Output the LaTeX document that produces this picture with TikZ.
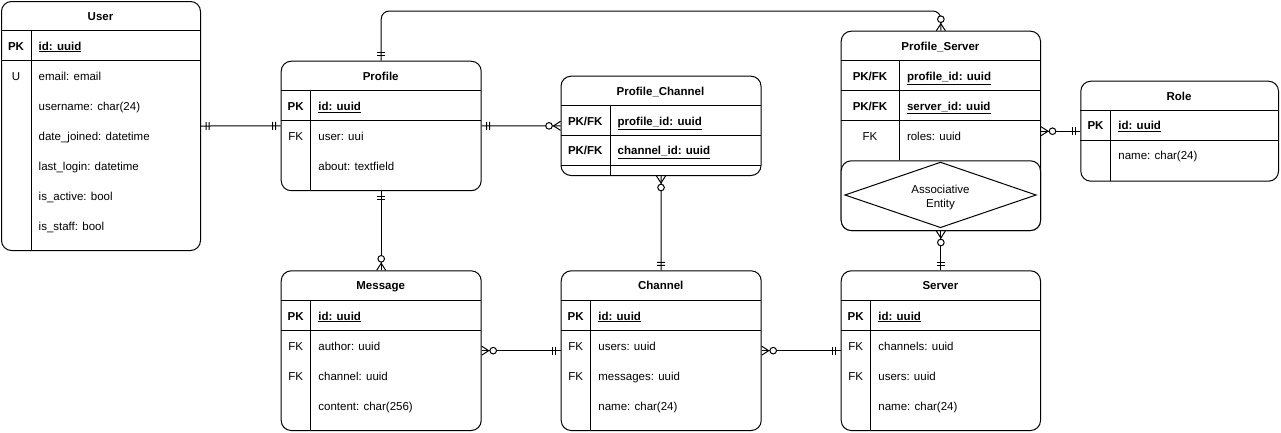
\documentclass[tikz,border=0pt]{standalone}
\usepackage{fontspec}
\setmainfont{Liberation Sans}
\usetikzlibrary{decorations.markings}
\newcommand\erfs{\fontsize{11.5}{15}\selectfont}
\newcommand\erul[1]{\underline{#1}}
\tikzset{
  ent/.style={draw, rounded corners=10pt, line width=1pt, inner sep=0pt, anchor=north west, fill=white},
  txt/.style={inner sep=0pt, font=\erfs, text height=9pt, text depth=0pt},
  ttl/.style={txt, font=\erfs\bfseries},
  keycell/.style={txt},
  pkcell/.style={txt, font=\erfs\bfseries},
  val/.style={txt, anchor=west},
  pkval/.style={val, font=\erfs\bfseries},
  rowline/.style={line width=1pt},
  conn/.style={line width=1pt},
  oneEnd/.style={postaction={decorate,decoration={markings,
    mark=at position -5pt with {\draw[line width=1pt,sharp corners] (0pt,-4pt) -- (0pt,4pt);},
    mark=at position -8pt with {\draw[line width=1pt,sharp corners] (0pt,-4pt) -- (0pt,4pt);}}}},
  oneStart/.style={postaction={decorate,decoration={markings,
    mark=at position 5pt with {\draw[line width=1pt,sharp corners] (0pt,-4pt) -- (0pt,4pt);},
    mark=at position 8pt with {\draw[line width=1pt,sharp corners] (0pt,-4pt) -- (0pt,4pt);}}}},
  manyEnd/.style={postaction={decorate,decoration={markings,
    mark=at position -7pt with {\draw[line width=1pt,sharp corners] (7pt,4.5pt) -- (0pt,0pt) -- (7pt,-4.5pt);},
    mark=at position -11.5pt with {\draw[line width=1pt,fill=white] (0pt,0pt) circle (3.3pt);}}}},
  manyStart/.style={postaction={decorate,decoration={markings,
    mark=at position 7pt with {\draw[line width=1pt,sharp corners] (-7pt,4.5pt) -- (0pt,0pt) -- (-7pt,-4.5pt);},
    mark=at position 11.5pt with {\draw[line width=1pt,fill=white] (0pt,0pt) circle (3.3pt);}}}},
}
\begin{document}
\begin{tikzpicture}[x=1pt,y=-1pt]
\fill[white] (0,0) rectangle (1281,432);
\useasboundingbox (0,0) rectangle (1281,432);

% ---------- User ----------
\node[ent, minimum width=199pt, minimum height=249pt] (user) at (1,1) {};
\draw[rowline] (1,30.5) -- (200,30.5);
\draw[rowline] (1,60.5) -- (200,60.5);
\draw[rowline] (31,30.5) -- (31,250);
\node[ttl] (u-t) at (100.5,15.5) {User};
\node[pkcell] (u-k1) at (16,45.5) {PK};
\node[pkval] (u-v1) at (38.5,45.5) {\erul{id: uuid}};
\node[keycell] (u-k2) at (16,75.5) {U};
\node[val] (u-v2) at (38.5,75.5) {email: email};
\node[val] (u-v3) at (38.5,105.5) {username: char(24)};
\node[val] (u-v4) at (38.5,135.5) {date\_joined: datetime};
\node[val] (u-v5) at (38.5,165.5) {last\_login: datetime};
\node[val] (u-v6) at (38.5,195.5) {is\_active: bool};
\node[val] (u-v7) at (38.5,225.5) {is\_staff: bool};

% ---------- Profile ----------
\node[ent, minimum width=200pt, minimum height=129.5pt] (profile) at (280.7,60.7) {};
\draw[rowline] (280.7,90.7) -- (480.7,90.7);
\draw[rowline] (280.7,120.7) -- (480.7,120.7);
\draw[rowline] (310.7,90.7) -- (310.7,190.2);
\node[ttl] (p-t) at (380.7,75.7) {Profile};
\node[pkcell] (p-k1) at (295.7,105.7) {PK};
\node[pkval] (p-v1) at (318.2,105.7) {\erul{id: uuid}};
\node[keycell] (p-k2) at (295.7,135.7) {FK};
\node[val] (p-v2) at (318.2,135.7) {user: uui};
\node[val] (p-v3) at (318.2,165.7) {about: textfield};

% ---------- Profile_Channel ----------
\node[ent, minimum width=200pt, minimum height=99.3pt] (pc) at (560.5,75.7) {};
\draw[rowline] (560.5,105.7) -- (760.5,105.7);
\draw[rowline] (560.5,135.5) -- (760.5,135.5);
\draw[rowline] (560.5,165.3) -- (760.5,165.3);
\draw[rowline] (610,105.7) -- (610,175);
\node[ttl] (pc-t) at (660.5,90.7) {Profile\_Channel};
\node[pkcell] (pc-k1) at (585.25,120.6) {PK/FK};
\node[pkval] (pc-v1) at (617.5,120.6) {\erul{profile\_id: uuid}};
\node[pkcell] (pc-k2) at (585.25,150.4) {PK/FK};
\node[pkval] (pc-v2) at (617.5,150.4) {\erul{channel\_id: uuid}};

% ---------- Profile_Server ----------
\node[ent, minimum width=199.3pt, minimum height=199.3pt] (ps) at (840.7,30.7) {};
\draw[rowline] (840.7,60.7) -- (1040,60.7);
\draw[rowline] (840.7,90.7) -- (1040,90.7);
\draw[rowline] (840.7,120.7) -- (1040,120.7);
\draw[rowline] (899.3,60.7) -- (899.3,160.3);
\node[ttl] (ps-t) at (940.4,45.7) {Profile\_Server};
\node[pkcell] (ps-k1) at (870,75.7) {PK/FK};
\node[pkval] (ps-v1) at (906.8,75.7) {\erul{profile\_id: uuid}};
\node[pkcell] (ps-k2) at (870,105.7) {PK/FK};
\node[pkval] (ps-v2) at (906.8,105.7) {\erul{server\_id: uuid}};
\node[keycell] (ps-k3) at (870,135.7) {FK};
\node[val] (ps-v3) at (906.8,135.7) {roles: uuid};
\node[ent, minimum width=199.3pt, minimum height=69.7pt] (assoc) at (840.7,160.3) {};
\draw[line width=1pt] (845,195) -- (940.5,162.3) -- (1036,195) -- (940.5,227.5) -- cycle;
\node[txt] (assoc-t1) at (940.5,189) {Associative};
\node[txt] (assoc-t2) at (940.5,203) {Entity};

% ---------- Role ----------
\node[ent, minimum width=197.7pt, minimum height=100pt] (role) at (1080.3,80.7) {};
\draw[rowline] (1080.3,110.3) -- (1278,110.3);
\draw[rowline] (1080.3,140) -- (1278,140);
\draw[rowline] (1110.7,110.3) -- (1110.7,180.7);
\node[ttl] (r-t) at (1179,95.5) {Role};
\node[pkcell] (r-k1) at (1095.5,125.2) {PK};
\node[pkval] (r-v1) at (1118.2,125.2) {\erul{id: uuid}};
\node[val] (r-v2) at (1118.2,155.2) {name: char(24)};

% ---------- Message ----------
\node[ent, minimum width=200pt, minimum height=159.7pt] (msg) at (280.7,270.3) {};
\draw[rowline] (280.7,300.5) -- (480.7,300.5);
\draw[rowline] (280.7,330.5) -- (480.7,330.5);
\draw[rowline] (310.7,300.5) -- (310.7,430);
\node[ttl] (m-t) at (380.7,285.4) {Message};
\node[pkcell] (m-k1) at (295.7,315.5) {PK};
\node[pkval] (m-v1) at (318.2,315.5) {\erul{id: uuid}};
\node[keycell] (m-k2) at (295.7,345.5) {FK};
\node[val] (m-v2) at (318.2,345.5) {author: uuid};
\node[keycell] (m-k3) at (295.7,375.5) {FK};
\node[val] (m-v3) at (318.2,375.5) {channel: uuid};
\node[val] (m-v4) at (318.2,405.5) {content: char(256)};

% ---------- Channel ----------
\node[ent, minimum width=200pt, minimum height=159.7pt] (channel) at (560.7,270.3) {};
\draw[rowline] (560.7,300.5) -- (760.7,300.5);
\draw[rowline] (560.7,330.5) -- (760.7,330.5);
\draw[rowline] (590.7,300.5) -- (590.7,430);
\node[ttl] (c-t) at (660.7,285.4) {Channel};
\node[pkcell] (c-k1) at (575.7,315.5) {PK};
\node[pkval] (c-v1) at (598.2,315.5) {\erul{id: uuid}};
\node[keycell] (c-k2) at (575.7,345.5) {FK};
\node[val] (c-v2) at (598.2,345.5) {users: uuid};
\node[keycell] (c-k3) at (575.7,375.5) {FK};
\node[val] (c-v3) at (598.2,375.5) {messages: uuid};
\node[val] (c-v4) at (598.2,405.5) {name: char(24)};

% ---------- Server ----------
\node[ent, minimum width=199.3pt, minimum height=159.7pt] (server) at (840.7,270.3) {};
\draw[rowline] (840.7,300.5) -- (1040,300.5);
\draw[rowline] (840.7,330.5) -- (1040,330.5);
\draw[rowline] (870.7,300.5) -- (870.7,430);
\node[ttl] (s-t) at (940.4,285.4) {Server};
\node[pkcell] (s-k1) at (855.7,315.5) {PK};
\node[pkval] (s-v1) at (878.2,315.5) {\erul{id: uuid}};
\node[keycell] (s-k2) at (855.7,345.5) {FK};
\node[val] (s-v2) at (878.2,345.5) {channels: uuid};
\node[keycell] (s-k3) at (855.7,375.5) {FK};
\node[val] (s-v3) at (878.2,375.5) {users: uuid};
\node[val] (s-v4) at (878.2,405.5) {name: char(24)};

% ---------- Connectors ----------
\coordinate (topc) at (0,11);
\draw[conn, oneStart, oneEnd] (user.east) -- (profile.west);
\draw[conn, oneStart, manyEnd] (profile.east) -- (pc.west);
\draw[conn, rounded corners=8pt, oneStart, manyEnd]
  (profile.north) -- (profile.north |- topc) -- (ps.north |- topc) -- (ps.north);
\draw[conn, oneStart, manyEnd] (profile.south) -- (msg.north);
\draw[conn, manyStart, oneEnd] (pc.south) -- (channel.north);
\draw[conn, manyStart, oneEnd] (msg.east) -- (channel.west);
\draw[conn, manyStart, oneEnd] (channel.east) -- (server.west);
\draw[conn, manyStart, oneEnd] (assoc.south) -- (server.north);
\draw[conn, manyStart, oneEnd] (ps.east |- role.west) -- (role.west);
\end{tikzpicture}
\end{document}
